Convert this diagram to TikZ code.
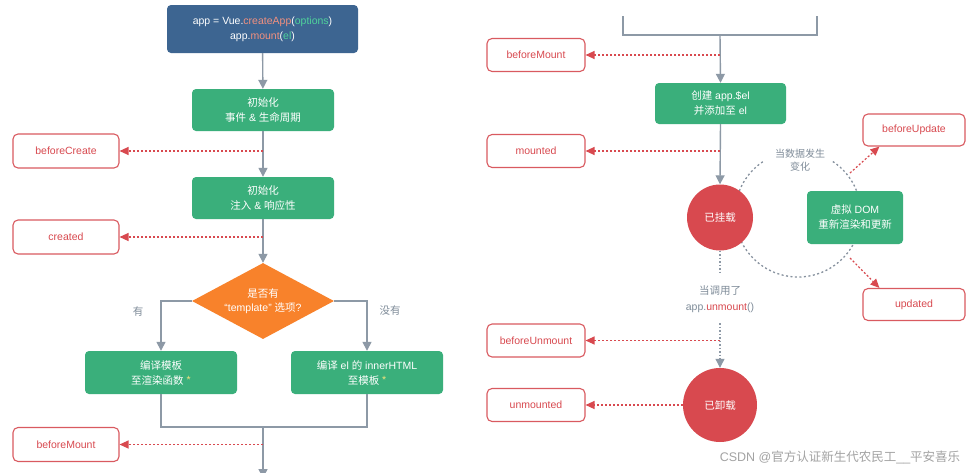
\documentclass[tikz,border=0pt]{standalone}
\usepackage{fontspec}
\setmainfont{Liberation Sans}
\newfontfamily\cjk{Noto Sans CJK SC}
\usetikzlibrary{arrows.meta,shapes.geometric}
\definecolor{vblue}{HTML}{3D6591}
\definecolor{vgreen}{HTML}{3AAF7B}
\definecolor{vorange}{HTML}{F8822B}
\definecolor{vred}{HTML}{D8494F}
\definecolor{vredline}{HTML}{D95A60}
\definecolor{vgray}{HTML}{8D99A6}
\definecolor{vtext}{HTML}{7F8C99}
\definecolor{vsalmon}{HTML}{F2907F}
\definecolor{vlgreen}{HTML}{4FD39B}
\definecolor{vstar}{HTML}{F3E27C}
\definecolor{wm}{HTML}{A3A3A3}
\begin{document}
\begin{tikzpicture}[x=1pt,y=-1pt,
  font=\fontsize{10.5}{15}\selectfont,
  flowbox/.style={rectangle, rounded corners=4pt, fill=vgreen, text=white, align=center, inner sep=0pt},
  hookbox/.style={rectangle, rounded corners=5pt, draw=vredline, line width=1.1pt, fill=white, text=vred, inner sep=0pt},
  gline/.style={draw=vgray, line width=1.4pt},
  garrow/.style={draw=vgray, line width=1.4pt, -{Triangle[length=9pt,width=9pt]}},
  gdot/.style={draw=vgray, line width=1.1pt, dash pattern=on 1.5pt off 2pt},
  gdotarrow/.style={gdot, -{Triangle[length=9pt,width=9pt]}},
  hookarrow/.style={draw=vred, line width=1.2pt, dash pattern=on 2pt off 2pt, -{Triangle[length=9pt,width=8pt]}},
  circdash/.style={draw=vgray!95!black, line width=1.3pt, dash pattern=on 2pt off 2.5pt},
  lbl/.style={text=vtext, inner sep=1pt},
  redcirc/.style={circle, fill=vred, text=white, inner sep=0pt}
]
\useasboundingbox (0,0) rectangle (978,472);
\fill[white] (0,0) rectangle (978,472);

% ---------------- left column ----------------
\node[rectangle, rounded corners=4pt, fill=vblue, text=white, align=center, inner sep=0pt,
      minimum width=191, minimum height=48] (app) at (262.5,29)
  {app = Vue.\textcolor{vsalmon}{createApp}(\textcolor{vlgreen}{options})\\app.\textcolor{vsalmon}{mount}(\textcolor{vlgreen}{el})};

\node[flowbox, minimum width=142, minimum height=42] (init1) at (263,110)
  {{\cjk 初始化}\\{\cjk 事件} \& {\cjk 生命周期}};
\node[flowbox, minimum width=142, minimum height=42] (init2) at (263,198)
  {{\cjk 初始化}\\{\cjk 注入} \& {\cjk 响应性}};
\node[diamond, fill=vorange, text=white, align=center, inner sep=0pt, shape aspect=2,
      minimum width=142, minimum height=76, font=\fontsize{10.5}{13.5}\selectfont] (dia) at (263,301)
  {{\cjk 是否有}\\“template” {\cjk 选项}?};
\node[flowbox, minimum width=152, minimum height=43] (comp1) at (161,372.5)
  {{\cjk 编译模板}\\{\cjk 至渲染函数} \textcolor{vstar}{\raisebox{1pt}{*}}};
\node[flowbox, minimum width=152, minimum height=43] (comp2) at (367,372.5)
  {{\cjk 编译} el {\cjk 的} innerHTML\\{\cjk 至模板} \textcolor{vstar}{\raisebox{1pt}{*}}};

\node[hookbox, minimum width=106, minimum height=34] (bc) at (66,151) {beforeCreate};
\node[hookbox, minimum width=106, minimum height=34] (cd) at (66,237) {created};
\node[hookbox, minimum width=106, minimum height=34] (bm1) at (66,444.5) {beforeMount};

\node[lbl] (yes) at (138,311) {\cjk 有};
\node[lbl] (no) at (390,311) {\cjk 没有};

\coordinate (join) at (263,427);
\coordinate (down) at (263,478);

\draw[garrow] (app) -- (init1);
\draw[garrow] (init1) -- (init2);
\draw[garrow] (init2) -- (dia);
\draw[garrow] (dia.west) -| (comp1.north);
\draw[garrow] (dia.east) -| (comp2.north);
\draw[gline] (comp1.south) |- (join) -| (comp2.south);
\draw[garrow] (join) -- (down);

\draw[hookarrow] (init1.south |- bc.east) -- (bc.east);
\draw[hookarrow] (init2.south |- cd.east) -- (cd.east);
\draw[hookarrow] (join |- bm1.east) -- (bm1.east);

% ---------------- right column ----------------
\coordinate (cc) at (798,214);
\draw[circdash] ([shift={(236:63)}]cc) arc[start angle=236, end angle=-57, radius=63];

\coordinate (tl) at (623,16);
\coordinate (tr) at (817,16);
\coordinate (mj) at (720,35);
\draw[gline] (tl) |- (mj) -| (tr);

\node[flowbox, minimum width=131, minimum height=41] (cr) at (720.5,103.5)
  {{\cjk 创建} app.\$el\\{\cjk 并添加至} el};
\node[redcirc, minimum size=66] (m1) at (720,217.5) {\cjk 已挂载};
\node[flowbox, minimum width=96, minimum height=53] (vd) at (855,217.5)
  {{\cjk 虚拟} DOM\\{\cjk 重新渲染和更新}};
\node[redcirc, minimum size=74] (m2) at (720,405) {\cjk 已卸载};

\node[hookbox, minimum width=98, minimum height=33] (bm2) at (536,55) {beforeMount};
\node[hookbox, minimum width=98, minimum height=33] (mt) at (536,151) {mounted};
\node[hookbox, minimum width=98, minimum height=33] (bu) at (536,340.5) {beforeUnmount};
\node[hookbox, minimum width=98, minimum height=33] (um) at (536,405) {unmounted};
\node[hookbox, minimum width=102, minimum height=32] (bup) at (914,130) {beforeUpdate};
\node[hookbox, minimum width=102, minimum height=32] (upd) at (914,304.5) {updated};

\node[lbl, align=center, font=\fontsize{10}{13}\selectfont] (chg) at (800,160) {\cjk 当数据发生\\\cjk 变化};
\node[lbl] (call) at (720,291) {\cjk 当调用了};
\node[lbl] (unm) at (720,308) {app.\textcolor{vred}{unmount}()};

\coordinate (d1) at (720,272);
\coordinate (d2) at (720,323);
\coordinate (u1) at (850,173);
\coordinate (u2) at (850,258);

\draw[garrow] (mj) -- (cr.north);
\draw[garrow] (cr.south) -- (m1.north);
\draw[gdot] (m1.south) -- (d1);
\draw[gdotarrow] (d2) -- (m2.north);

\draw[hookarrow] (mj |- bm2.east) -- (bm2.east);
\draw[hookarrow] (mj |- mt.east) -- (mt.east);
\draw[hookarrow] (mj |- bu.east) -- (bu.east);
\draw[hookarrow] (m2.west) -- (um.east);
\draw[hookarrow] (u1) -- ([xshift=17pt]bup.south west);
\draw[hookarrow] (u2) -- ([xshift=17pt]upd.north west);

\node[text=wm, font=\fontsize{12.5}{14}\selectfont, inner sep=0pt] (wmk) at (840,457)
  {CSDN @{\cjk 官方认证新生代农民工}\_\_{\cjk 平安喜乐}};
\end{tikzpicture}
\end{document}
